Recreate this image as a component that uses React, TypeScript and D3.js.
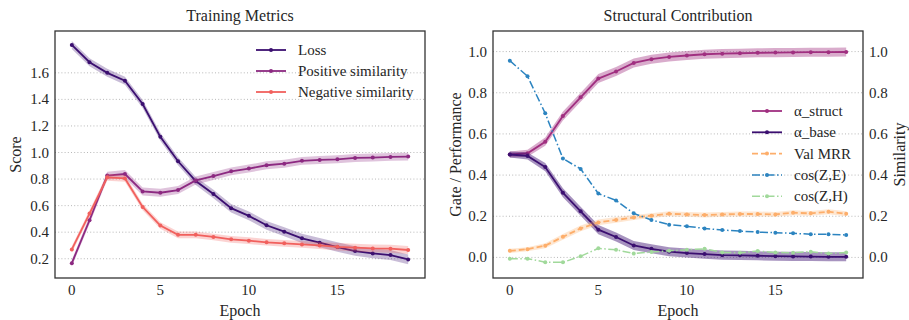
import React, { useEffect, useRef } from 'react';
import * as d3 from 'd3';

const epochs = d3.range(20);

// left panel: training metrics
const lossMean = [1.81, 1.68, 1.60, 1.54, 1.365, 1.118, 0.934, 0.785, 0.687, 0.581, 0.523, 0.452, 0.404, 0.354, 0.321, 0.288, 0.258, 0.240, 0.228, 0.195];
const lossStd = [0.03, 0.03, 0.03, 0.03, 0.03, 0.03, 0.03, 0.03, 0.032, 0.032, 0.033, 0.033, 0.034, 0.035, 0.035, 0.036, 0.036, 0.037, 0.037, 0.037];
const posMean = [0.167, 0.49, 0.826, 0.838, 0.707, 0.697, 0.717, 0.79, 0.823, 0.858, 0.879, 0.904, 0.916, 0.937, 0.944, 0.949, 0.959, 0.962, 0.967, 0.969];
const posStd = [0.025, 0.028, 0.03, 0.03, 0.03, 0.03, 0.03, 0.03, 0.03, 0.03, 0.03, 0.03, 0.03, 0.03, 0.03, 0.03, 0.03, 0.03, 0.03, 0.03];
const negMean = [0.27, 0.54, 0.813, 0.805, 0.59, 0.45, 0.38, 0.38, 0.364, 0.346, 0.336, 0.324, 0.316, 0.308, 0.30, 0.29, 0.283, 0.278, 0.276, 0.266];
const negStd = [0.025, 0.025, 0.025, 0.025, 0.025, 0.025, 0.025, 0.025, 0.025, 0.025, 0.025, 0.025, 0.025, 0.026, 0.027, 0.028, 0.029, 0.03, 0.03, 0.03];
const leftTicks = [0.2, 0.4, 0.6, 0.8, 1.0, 1.2, 1.4, 1.6];

// right panel: structural contribution
const alphaStruct = [0.50, 0.506, 0.562, 0.687, 0.778, 0.869, 0.903, 0.945, 0.963, 0.974, 0.981, 0.987, 0.99, 0.992, 0.994, 0.995, 0.996, 0.997, 0.997, 0.998];
const alphaBase = [0.50, 0.493, 0.439, 0.314, 0.224, 0.135, 0.099, 0.058, 0.042, 0.028, 0.021, 0.016, 0.011, 0.01, 0.008, 0.006, 0.005, 0.004, 0.003, 0.003];
const alphaStd = [0.015, 0.017, 0.02, 0.022, 0.022, 0.022, 0.022, 0.022, 0.022, 0.022, 0.022, 0.022, 0.022, 0.022, 0.022, 0.022, 0.022, 0.022, 0.022, 0.022];
const valMrr = [0.032, 0.04, 0.057, 0.10, 0.141, 0.17, 0.182, 0.194, 0.203, 0.212, 0.209, 0.206, 0.209, 0.211, 0.211, 0.209, 0.217, 0.214, 0.222, 0.212];
const valMrrStd = [0.01, 0.01, 0.012, 0.014, 0.014, 0.014, 0.014, 0.012, 0.012, 0.012, 0.012, 0.012, 0.012, 0.012, 0.012, 0.012, 0.012, 0.012, 0.012, 0.012];
const cosZE = [0.956, 0.88, 0.70, 0.48, 0.43, 0.31, 0.277, 0.214, 0.182, 0.159, 0.151, 0.141, 0.133, 0.128, 0.123, 0.12, 0.117, 0.113, 0.112, 0.109];
const cosZH = [-0.006, -0.006, -0.023, -0.024, 0.006, 0.044, 0.037, 0.019, 0.026, 0.032, 0.037, 0.042, 0.024, 0.023, 0.031, 0.024, 0.023, 0.028, 0.019, 0.024];
const rightTicks = [0.0, 0.2, 0.4, 0.6, 0.8, 1.0];
const xTicks = [0, 5, 10, 15];

const FONT = 'Liberation Serif, Times New Roman, DejaVu Serif, serif';

const App = () => {
  const ref = useRef<SVGSVGElement | null>(null);

  useEffect(() => {
    const svg = d3.select(ref.current);
    svg.selectAll('*').remove();

    const top = 31, bottom = 278;

    const label = (g, x, y, size, txt, anchor = 'middle') =>
      g.append('text').attr('x', x).attr('y', y)
        .attr('text-anchor', anchor).attr('font-size', size)
        .attr('font-family', FONT).attr('fill', '#262626').text(txt);

    const drawPanel = (opts) => {
      const { left, right, yDomain, yTicks, title, ylabel, ylabelX, series, legend, yFmt } = opts;
      const x = d3.scaleLinear().domain([-0.95, 19.95]).range([left, right]);
      const y = d3.scaleLinear().domain(yDomain).range([bottom, top]);
      const g = svg.append('g');

      // grid
      g.selectAll('line.grid').data(yTicks).enter().append('line')
        .attr('x1', left).attr('x2', right)
        .attr('y1', (d) => y(d)).attr('y2', (d) => y(d))
        .attr('stroke', '#b0b0b0').attr('stroke-width', 0.9)
        .attr('stroke-dasharray', '1,2.2');

      // series
      series.forEach((s) => {
        if (s.std) {
          const area = d3.area<number>()
            .x((i) => x(epochs[i]))
            .y0((i) => y(s.values[i] - s.std[i]))
            .y1((i) => y(s.values[i] + s.std[i]));
          g.append('path').attr('d', area(epochs))
            .attr('fill', s.color).attr('opacity', s.bandOpacity || 0.3);
        }
        const line = d3.line<number>().x((i) => x(epochs[i])).y((i) => y(s.values[i]));
        g.append('path').attr('d', line(epochs))
          .attr('fill', 'none').attr('stroke', s.color)
          .attr('stroke-width', s.width || 1.8)
          .attr('stroke-dasharray', s.dash || null);
        g.selectAll(null).data(epochs).enter().append('circle')
          .attr('cx', (i) => x(epochs[i])).attr('cy', (i) => y(s.values[i]))
          .attr('r', 2).attr('fill', s.color);
      });

      // frame
      g.append('rect').attr('x', left).attr('y', top)
        .attr('width', right - left).attr('height', bottom - top)
        .attr('fill', 'none').attr('stroke', '#333').attr('stroke-width', 1.3);

      xTicks.forEach((d) => label(g, x(d), 295, 15, d));
      label(g, (left + right) / 2, 316, 16, 'Epoch');

      yTicks.forEach((d) => label(g, left - 6, y(d) + 5, 15, yFmt(d), 'end'));
      label(g, 0, 0, 16, ylabel)
        .attr('transform', `translate(${ylabelX},${(top + bottom) / 2}) rotate(-90)`);

      label(g, (left + right) / 2, 21, 16, title);

      // legend
      legend.items.forEach((s, i) => {
        const ly = legend.y + i * legend.step;
        g.append('line').attr('x1', legend.x).attr('x2', legend.x + 30)
          .attr('y1', ly).attr('y2', ly)
          .attr('stroke', s.color).attr('stroke-width', s.width || 1.8)
          .attr('stroke-dasharray', s.dash || null);
        g.append('circle').attr('cx', legend.x + 15).attr('cy', ly).attr('r', 2)
          .attr('fill', s.color);
        label(g, legend.x + 42, ly + 5, 15, s.label, 'start');
      });

      return { x, y, g };
    };

    const leftSeries = [
      { label: 'Loss', values: lossMean, std: lossStd, color: '#3b0f70', bandOpacity: 0.28 },
      { label: 'Positive similarity', values: posMean, std: posStd, color: '#8c2981', bandOpacity: 0.28 },
      { label: 'Negative similarity', values: negMean, std: negStd, color: '#f1605d', bandOpacity: 0.28 },
    ];
    drawPanel({
      left: 55, right: 425, yDomain: [0.055, 1.915], yTicks: leftTicks,
      title: 'Training Metrics', ylabel: 'Score', ylabelX: 21,
      series: leftSeries, yFmt: d3.format('.1f'),
      legend: { x: 256, y: 50, step: 21, items: leftSeries },
    });

    const rightSeries = [
      { label: 'α_struct', values: alphaStruct, std: alphaStd, color: '#a02f80', bandOpacity: 0.4 },
      { label: 'α_base', values: alphaBase, std: alphaStd, color: '#3b0f70', bandOpacity: 0.45 },
      { label: 'Val MRR', values: valMrr, std: valMrrStd, color: '#fdae6b', dash: '6,3', bandOpacity: 0.3 },
      { label: 'cos(Z,E)', values: cosZE, color: '#2c84c0', dash: '8,2.5,1.5,2.5', width: 1.5 },
      { label: 'cos(Z,H)', values: cosZH, color: '#a1d99b', dash: '8,2.5,1.5,2.5', width: 1.5 },
    ];
    const r = drawPanel({
      left: 493, right: 863, yDomain: [-0.1, 1.1], yTicks: rightTicks,
      title: 'Structural Contribution', ylabel: 'Gate / Performance', ylabelX: 461,
      series: rightSeries, yFmt: d3.format('.1f'),
      legend: { x: 752, y: 111, step: 21.3, items: rightSeries },
    });

    // secondary similarity axis
    const ySim = d3.scaleLinear().domain([-0.1, 1.1]).range([bottom, top]);
    rightTicks.forEach((d) => label(r.g, 869, ySim(d) + 5, 15, d3.format('.1f')(d), 'start'));
    label(r.g, 0, 0, 16, 'Similarity')
      .attr('transform', `translate(905,${(top + bottom) / 2}) rotate(-90)`);
  }, []);

  return (
    <svg ref={ref} width={909} height={320}
      style={{ position: 'absolute', left: 0, top: 0, background: '#fff' }} />
  );
};

export default App;
